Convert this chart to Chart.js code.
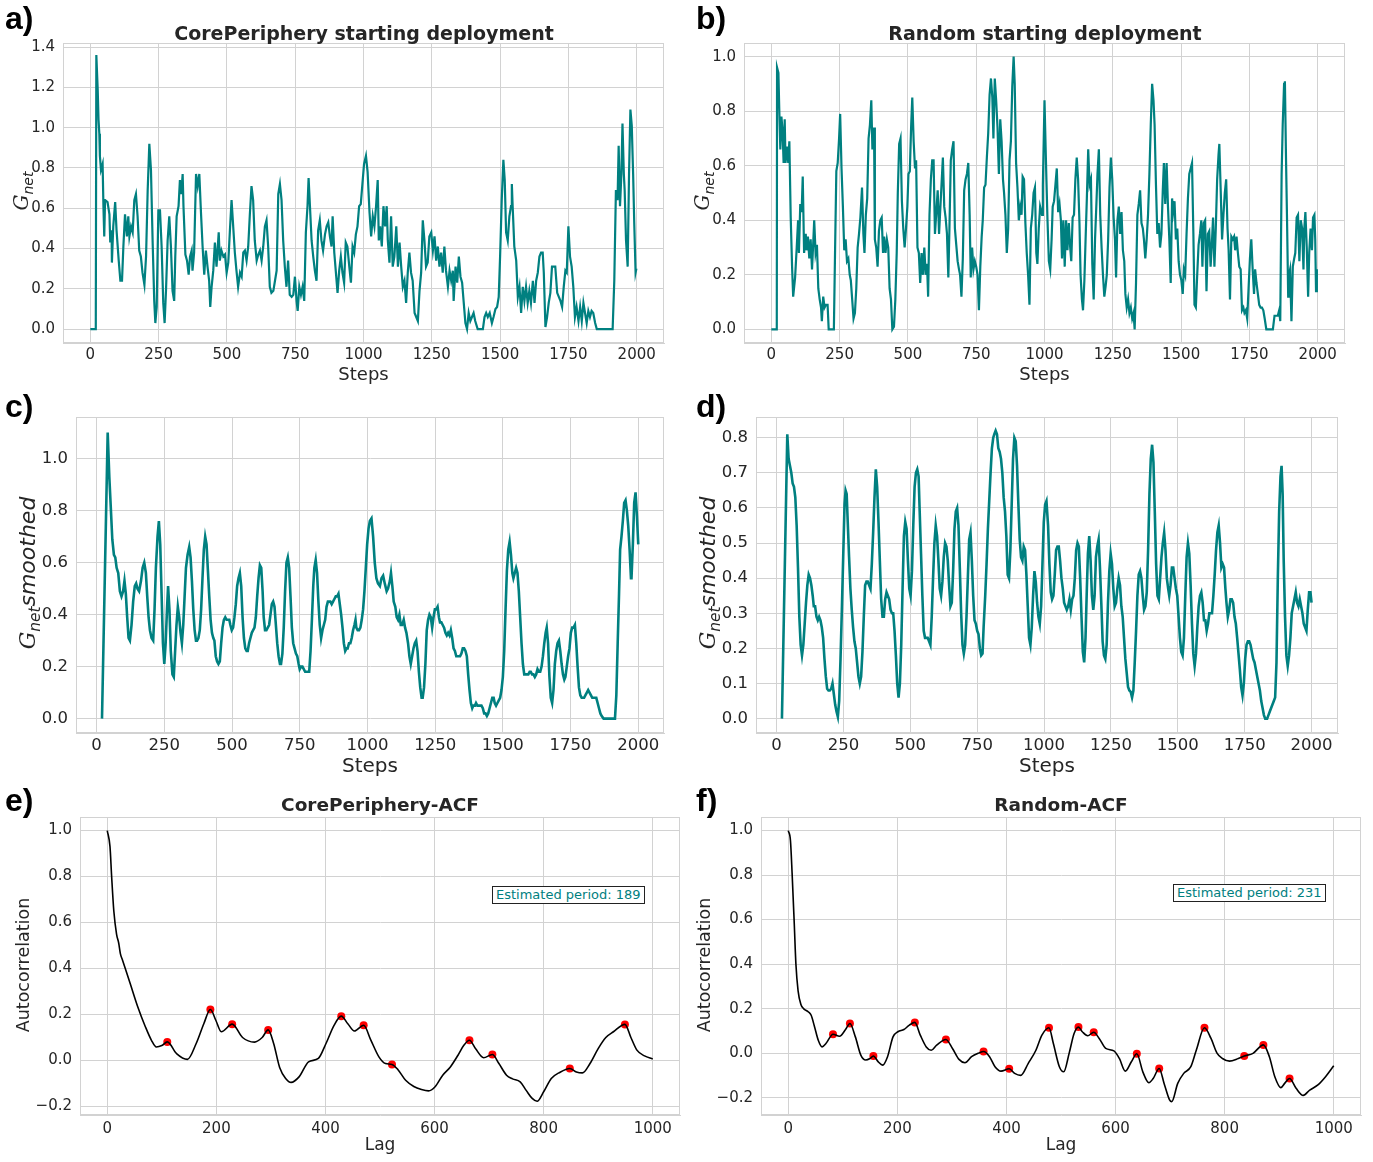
<!DOCTYPE html>
<html>
<head>
<meta charset="utf-8">
<script src="https://cdn.jsdelivr.net/npm/chart.js@4.4.0/dist/chart.umd.min.js"></script>
<style>
body{margin:0;background:#fff;width:1373px;height:1162px;position:relative;overflow:hidden;font-family:"DejaVu Sans",sans-serif;color:#262626}
.panel{position:absolute}
.lbl{position:absolute;font-family:"Liberation Sans",Arial,sans-serif;font-weight:bold;font-size:32px;line-height:1;color:#000}
.ttl{position:absolute;font-weight:bold;font-size:19px;line-height:1;transform:translateX(-50%);white-space:nowrap;color:#262626}
.ylab{position:absolute;transform:translate(-50%,-50%) rotate(-90deg);white-space:nowrap;line-height:1;color:#262626}
.cal{font-family:"DejaVu Serif",serif;font-style:italic}
.ylab sub{font-size:0.7em;font-style:italic;vertical-align:-0.35em;line-height:0}
.ylab i{font-style:italic}
.note{position:absolute;font-size:13px;line-height:16px;padding:0 3px;border:1px solid #222;background:#fff;color:#008080;white-space:nowrap}
</style>
</head>
<body>
<div id="pa" class="panel"></div>
<div id="pb" class="panel"></div>
<div id="pc" class="panel"></div>
<div id="pd" class="panel"></div>
<div id="pe" class="panel"></div>
<div id="pf" class="panel"></div>

<div class="lbl" style="left:5px;top:2px">a)</div>
<div class="lbl" style="left:696px;top:2px">b)</div>
<div class="lbl" style="left:5px;top:390px">c)</div>
<div class="lbl" style="left:696px;top:390px">d)</div>
<div class="lbl" style="left:5px;top:784px">e)</div>
<div class="lbl" style="left:696px;top:784px">f)</div>

<div class="ttl" style="left:364px;top:24px">CorePeriphery starting deployment</div>
<div class="ttl" style="left:1045px;top:24px">Random starting deployment</div>
<div class="ttl" style="left:380px;top:796px;font-size:18.5px">CorePeriphery-ACF</div>
<div class="ttl" style="left:1061px;top:796px;font-size:18.5px">Random-ACF</div>

<div class="ylab" style="left:21px;top:191px;font-size:20px"><span class="cal">G</span><sub>net</sub></div>
<div class="ylab" style="left:702px;top:191px;font-size:20px"><span class="cal">G</span><sub>net</sub></div>
<div class="ylab" style="left:28px;top:573px;font-size:22px"><span class="cal">G</span><sub>net</sub><i>smoothed</i></div>
<div class="ylab" style="left:708px;top:573px;font-size:22px"><span class="cal">G</span><sub>net</sub><i>smoothed</i></div>
<div class="ylab" style="left:24px;top:965px;font-size:17.5px">Autocorrelation</div>
<div class="ylab" style="left:705px;top:965px;font-size:17.5px">Autocorrelation</div>

<div class="note" style="left:492px;top:886px">Estimated period: 189</div>
<div class="note" style="left:1173px;top:884px">Estimated period: 231</div>

<script>
// ticks
const stepTicks = [0, 250, 500, 750, 1000, 1250, 1500, 1750, 2000];
const lagTicks = [0, 200, 400, 600, 800, 1000];
const gnetTicksCP = [0, 0.2, 0.4, 0.6, 0.8, 1.0, 1.2, 1.4];
const gnetTicksRD = [0, 0.2, 0.4, 0.6, 0.8, 1.0];
const smoothTicksCP = [0, 0.2, 0.4, 0.6, 0.8, 1.0];
const smoothTicksRD = [0, 0.1, 0.2, 0.3, 0.4, 0.5, 0.6, 0.7, 0.8];
const acfTicks = [-0.2, 0, 0.2, 0.4, 0.6, 0.8, 1.0];

// a) CorePeriphery G_net
const stepsCP = [
  0,20,22,27,30,33,35,39,45,48,51,54,63,70,73,78,79,84,91,96,
  104,110,116,121,127,134,139,143,149,155,161,167,173,179,185,191,198,204,210,216,
  222,228,234,238,243,249,255,261,267,272,277,283,289,295,301,307,311,316,323,328,
  333,338,341,348,354,360,365,371,374,380,387,393,399,405,411,417,423,429,435,439,
  444,450,456,462,470,474,480,487,493,499,505,511,517,523,529,535,541,548,554,560,
  566,572,578,584,590,596,602,609,615,621,627,633,639,645,651,657,663,670,676,682,
  688,694,700,706,712,718,724,730,737,743,749,755,759,765,771,777,783,789,795,799,
  804,810,816,822,828,834,840,846,852,859,865,871,877,883,887,893,899,905,911,917,
  923,929,935,941,948,954,960,966,972,978,984,990,996,1002,1009,1015,1022,1028,1034,1040,
  1046,1052,1056,1061,1067,1073,1079,1085,1089,1095,1101,1107,1113,1120,1126,1132,1138,1144,1150,1156,
  1162,1168,1174,1180,1187,1193,1199,1205,1211,1217,1223,1229,1235,1241,1248,1254,1260,1266,1272,1278,
  1284,1290,1296,1302,1309,1315,1321,1327,1330,1337,1343,1349,1355,1361,1367,1373,1379,1385,1391,1397,
  1403,1409,1418,1437,1443,1449,1455,1462,1470,1476,1483,1489,1495,1500,1506,1512,1517,1522,1528,1534,
  1540,1543,1546,1552,1559,1565,1571,1577,1583,1589,1595,1601,1607,1613,1620,1626,1632,1638,1644,1650,
  1656,1660,1666,1672,1678,1684,1690,1696,1702,1709,1715,1721,1727,1733,1739,1744,1750,1756,1762,1768,
  1774,1780,1787,1793,1799,1805,1811,1817,1823,1829,1835,1841,1848,1854,1912,1918,1924,1930,1934,1939,
  1944,1948,1953,1956,1961,1967,1972,1977,1982,1987,1991,1996,1999
];
const gnetCP = [
  0,0,1.36,1.19,1.04,0.97,0.86,0.79,0.82,0.61,0.46,0.64,0.63,0.57,0.43,0.49,0.33,0.51,0.63,0.49,
  0.34,0.24,0.24,0.41,0.57,0.46,0.56,0.46,0.51,0.48,0.64,0.67,0.56,0.39,0.36,0.28,0.22,0.36,0.69,0.92,
  0.79,0.44,0.14,0.03,0.11,0.59,0.59,0.41,0.13,0.03,0.19,0.44,0.56,0.41,0.19,0.14,0.36,0.56,0.61,0.74,
  0.67,0.77,0.61,0.37,0.34,0.27,0.36,0.39,0.29,0.38,0.77,0.71,0.77,0.58,0.41,0.27,0.39,0.31,0.24,0.11,
  0.21,0.29,0.43,0.31,0.48,0.34,0.39,0.36,0.37,0.28,0.33,0.49,0.64,0.51,0.38,0.29,0.21,0.28,0.26,0.38,
  0.39,0.34,0.41,0.57,0.71,0.64,0.44,0.34,0.37,0.39,0.34,0.41,0.51,0.54,0.41,0.21,0.18,0.19,0.24,0.29,
  0.67,0.72,0.64,0.44,0.31,0.21,0.34,0.17,0.16,0.17,0.26,0.14,0.09,0.21,0.17,0.21,0.14,0.48,0.61,0.75,
  0.61,0.44,0.36,0.29,0.24,0.49,0.54,0.44,0.39,0.47,0.51,0.53,0.46,0.41,0.56,0.38,0.28,0.18,0.29,0.36,
  0.28,0.23,0.43,0.41,0.31,0.23,0.41,0.38,0.47,0.51,0.61,0.62,0.72,0.82,0.86,0.78,0.58,0.46,0.56,0.51,
  0.61,0.74,0.44,0.51,0.41,0.61,0.51,0.61,0.44,0.33,0.56,0.31,0.36,0.51,0.31,0.43,0.31,0.21,0.24,0.13,
  0.28,0.38,0.28,0.24,0.08,0.06,0.04,0.19,0.28,0.54,0.44,0.31,0.33,0.46,0.48,0.39,0.46,0.34,0.41,0.31,
  0.38,0.28,0.41,0.29,0.21,0.29,0.24,0.29,0.14,0.31,0.23,0.36,0.26,0.23,0.13,0.03,0,0.08,0.04,0.06,
  0.08,0.04,0,0,0.06,0.08,0.06,0.08,0.03,0.06,0.10,0.11,0.16,0.36,0.64,0.84,0.74,0.48,0.44,0.56,
  0.61,0.72,0.61,0.41,0.34,0.16,0.21,0.08,0.21,0.14,0.21,0.13,0.19,0.13,0.24,0.13,0.24,0.28,0.36,0.38,
  0.38,0.28,0.01,0.06,0.13,0.18,0.31,0.31,0.31,0.18,0.16,0.14,0.11,0.21,0.29,0.28,0.51,0.36,0.31,0.21,
  0.06,0.11,0.04,0.11,0.04,0.13,0.08,0.03,0.09,0.06,0.09,0.08,0.03,0,0,0.24,0.69,0.64,0.91,0.61,
  0.77,1.02,0.77,0.69,0.44,0.31,0.77,1.09,1.01,0.77,0.53,0.28,0.30
];

// b) Random G_net
const stepsRD = [
  0,20,21,26,29,33,37,41,45,49,52,57,62,66,71,76,80,87,93,98,
  101,106,111,115,120,126,129,134,139,144,149,154,157,162,167,172,177,182,185,190,
  195,200,206,210,229,234,238,243,248,252,257,262,267,272,277,282,287,291,296,301,
  306,311,316,321,326,332,337,341,346,351,356,361,366,370,376,379,384,389,394,399,
  404,409,413,418,423,428,433,438,443,449,454,459,463,468,473,478,483,488,493,498,
  502,507,512,516,521,526,530,535,540,545,550,555,560,565,570,574,579,584,589,594,
  599,604,609,614,618,623,628,633,638,643,648,652,657,662,667,672,677,682,687,691,
  696,701,706,711,716,721,726,730,735,740,745,750,755,760,765,770,774,779,784,789,
  794,799,804,809,813,818,823,828,833,838,843,848,852,857,862,867,872,877,882,887,
  891,896,901,906,911,916,920,925,930,935,940,945,950,955,960,965,970,974,979,984,
  991,994,1000,1004,1007,1011,1016,1021,1026,1030,1035,1040,1045,1050,1055,1060,1064,1069,1074,1079,
  1084,1089,1094,1098,1103,1108,1113,1118,1123,1128,1132,1137,1141,1146,1151,1155,1160,1165,1170,1175,
  1180,1185,1190,1194,1199,1204,1209,1214,1219,1224,1228,1233,1238,1243,1248,1253,1258,1262,1267,1272,
  1277,1282,1287,1292,1296,1301,1306,1311,1316,1321,1326,1330,1335,1340,1345,1350,1355,1360,1364,1369,
  1374,1379,1384,1389,1394,1399,1403,1408,1413,1418,1423,1428,1433,1437,1442,1447,1452,1457,1462,1467,
  1471,1476,1481,1486,1491,1496,1501,1506,1510,1515,1520,1525,1530,1535,1540,1545,1549,1554,1559,1564,
  1569,1574,1578,1583,1588,1593,1598,1603,1608,1612,1617,1622,1627,1632,1637,1640,1645,1650,1655,1660,
  1665,1670,1674,1679,1684,1689,1694,1698,1703,1708,1713,1718,1723,1728,1732,1737,1742,1747,1752,1757,
  1762,1767,1771,1776,1781,1786,1791,1796,1801,1806,1812,1836,1842,1854,1859,1863,1868,1872,1877,1880,
  1884,1888,1892,1895,1899,1904,1909,1914,1918,1923,1928,1933,1938,1943,1948,1951,1955,1960,1965,1969,
  1974,1979,1983,1988,1991,1994,1997
];
const gnetRD = [
  0,0,0.96,0.94,0.81,0.66,0.78,0.73,0.61,0.77,0.61,0.67,0.61,0.69,0.41,0.23,0.12,0.19,0.30,0.40,
  0.28,0.46,0.43,0.56,0.28,0.35,0.29,0.34,0.26,0.33,0.22,0.33,0.40,0.28,0.31,0.15,0.11,0.08,0.03,0.12,
  0.08,0.09,0.09,0,0,0.33,0.58,0.61,0.70,0.79,0.59,0.45,0.29,0.33,0.25,0.26,0.20,0.18,0.11,0.04,
  0.06,0.15,0.30,0.35,0.41,0.52,0.35,0.28,0.42,0.48,0.70,0.75,0.84,0.66,0.74,0.33,0.30,0.23,0.36,0.40,
  0.41,0.28,0.34,0.28,0.33,0.30,0.15,0.11,0,0.01,0.11,0.28,0.50,0.68,0.70,0.47,0.37,0.30,0.37,0.45,
  0.57,0.58,0.75,0.85,0.69,0.59,0.62,0.30,0.28,0.17,0.28,0.20,0.30,0.20,0.24,0.12,0.42,0.55,0.62,0.62,
  0.35,0.43,0.51,0.35,0.43,0.53,0.63,0.45,0.41,0.35,0.19,0.37,0.62,0.66,0.69,0.37,0.31,0.25,0.22,0.20,
  0.12,0.26,0.51,0.55,0.57,0.61,0.42,0.19,0.30,0.22,0.25,0.23,0.20,0.07,0.23,0.34,0.40,0.52,0.53,0.63,
  0.72,0.86,0.92,0.85,0.70,0.92,0.84,0.74,0.57,0.77,0.69,0.55,0.50,0.42,0.28,0.37,0.62,0.69,0.89,1.0,
  0.90,0.61,0.52,0.40,0.45,0.42,0.56,0.55,0.39,0.28,0.20,0.09,0.37,0.42,0.50,0.52,0.28,0.24,0.37,0.45,
  0.42,0.53,0.84,0.67,0.55,0.40,0.25,0.22,0.33,0.45,0.47,0.53,0.59,0.43,0.46,0.40,0.26,0.40,0.23,0.40,
  0.29,0.39,0.30,0.25,0.41,0.42,0.55,0.63,0.55,0.39,0.20,0.11,0.07,0.18,0.35,0.48,0.66,0.53,0.55,0.24,
  0.11,0.33,0.46,0.57,0.66,0.42,0.30,0.20,0.12,0.16,0.20,0.33,0.52,0.63,0.55,0.41,0.33,0.19,0.40,0.45,
  0.35,0.43,0.29,0.25,0.13,0.08,0.11,0.06,0.08,0.04,0.06,0,0.17,0.42,0.46,0.51,0.39,0.37,0.33,0.26,
  0.33,0.42,0.57,0.75,0.90,0.84,0.75,0.53,0.35,0.39,0.30,0.35,0.51,0.61,0.46,0.61,0.45,0.33,0.17,0.48,
  0.43,0.47,0.33,0.37,0.25,0.20,0.18,0.13,0.22,0.20,0.35,0.48,0.57,0.59,0.61,0.35,0.09,0.08,0.20,0.31,
  0.35,0.40,0.23,0.39,0.40,0.14,0.35,0.36,0.23,0.30,0.41,0.23,0.37,0.55,0.64,0.68,0.51,0.33,0.42,0.50,
  0.55,0.37,0.29,0.11,0.34,0.33,0.34,0.29,0.34,0.28,0.23,0.22,0.07,0.08,0.06,0.07,0.04,0.15,0.26,0.33,
  0.22,0.13,0.22,0.17,0.13,0.09,0.08,0.08,0.07,0.04,0,0,0.05,0.05,0.07,0.03,0.57,0.75,0.90,0.91,
  0.63,0.39,0.12,0.20,0.22,0.03,0.23,0.26,0.28,0.41,0.42,0.25,0.40,0.37,0.22,0.37,0.43,0.30,0.12,0.28,
  0.37,0.29,0.41,0.42,0.33,0.14,0.22
];

// c) CorePeriphery smoothed
const stepsSmCP = [
  20,41,47,53,58,64,69,74,80,86,92,98,103,108,113,118,123,129,135,141,
  146,151,157,164,170,176,182,187,192,197,203,209,214,219,225,230,235,240,245,250,
  255,260,264,269,274,280,285,290,295,300,305,310,315,320,325,330,336,342,347,352,
  357,362,367,371,376,381,386,391,396,401,406,411,416,421,426,431,435,440,445,450,
  455,460,465,470,475,480,485,490,494,499,504,509,514,519,524,529,534,539,544,549,
  554,558,563,568,573,578,583,588,593,598,603,608,613,617,622,627,632,637,642,647,
  652,657,662,667,672,677,681,686,691,696,701,706,711,716,721,726,731,736,741,746,
  750,755,760,765,770,775,780,785,790,795,800,804,809,814,819,824,829,834,839,844,
  849,854,858,863,868,873,878,883,888,893,898,903,908,913,918,923,927,932,937,942,
  947,952,956,959,964,969,974,979,984,989,994,999,1004,1009,1015,1021,1027,1033,1039,1046,
  1052,1058,1064,1071,1076,1083,1087,1092,1097,1103,1108,1113,1118,1123,1128,1134,1139,1144,1150,1155,
  1160,1165,1170,1175,1180,1185,1190,1195,1200,1204,1209,1214,1219,1224,1229,1234,1239,1244,1249,1254,
  1259,1264,1268,1273,1278,1283,1288,1293,1298,1303,1308,1313,1318,1323,1328,1333,1337,1342,1347,1352,
  1357,1362,1367,1372,1377,1382,1387,1391,1397,1401,1406,1411,1416,1421,1426,1431,1436,1441,1446,1451,
  1456,1461,1466,1470,1475,1480,1485,1490,1495,1500,1505,1510,1515,1520,1525,1530,1535,1539,1544,1549,
  1554,1559,1564,1569,1574,1579,1584,1589,1594,1599,1603,1608,1613,1618,1623,1628,1633,1638,1643,1648,
  1653,1658,1662,1667,1672,1677,1682,1687,1692,1697,1702,1707,1712,1717,1722,1727,1731,1736,1741,1746,
  1751,1756,1761,1766,1771,1776,1781,1786,1791,1796,1800,1805,1810,1815,1820,1825,1830,1835,1840,1845,
  1850,1855,1860,1865,1872,1914,1919,1924,1929,1933,1938,1943,1948,1953,1958,1963,1968,1973,1975,1980,
  1985,1990,1995,2000
];
const smoothCP = [
  0,1.10,0.93,0.80,0.69,0.63,0.62,0.58,0.56,0.49,0.47,0.49,0.53,0.48,0.39,0.31,0.30,0.36,0.45,0.51,
  0.52,0.50,0.49,0.53,0.58,0.60,0.56,0.47,0.39,0.34,0.31,0.30,0.42,0.58,0.70,0.76,0.67,0.48,0.29,0.21,
  0.29,0.42,0.51,0.42,0.26,0.17,0.16,0.26,0.36,0.43,0.39,0.33,0.29,0.36,0.47,0.58,0.63,0.66,0.62,0.53,
  0.42,0.34,0.30,0.30,0.31,0.34,0.42,0.54,0.65,0.70,0.67,0.57,0.47,0.38,0.33,0.31,0.30,0.24,0.22,0.21,
  0.22,0.29,0.35,0.38,0.39,0.38,0.38,0.38,0.36,0.34,0.35,0.39,0.44,0.51,0.54,0.56,0.51,0.39,0.31,0.27,
  0.26,0.26,0.29,0.31,0.33,0.34,0.35,0.39,0.47,0.54,0.59,0.58,0.49,0.39,0.34,0.34,0.35,0.36,0.40,0.44,
  0.45,0.43,0.36,0.29,0.24,0.21,0.21,0.25,0.35,0.49,0.60,0.62,0.58,0.47,0.35,0.29,0.27,0.25,0.24,0.21,
  0.19,0.20,0.20,0.19,0.18,0.18,0.18,0.18,0.26,0.38,0.51,0.58,0.61,0.56,0.45,0.36,0.31,0.34,0.36,0.38,
  0.43,0.45,0.45,0.45,0.44,0.45,0.46,0.47,0.47,0.48,0.44,0.40,0.35,0.29,0.26,0.27,0.27,0.29,0.29,0.31,
  0.34,0.36,0.38,0.35,0.34,0.34,0.35,0.38,0.42,0.49,0.58,0.67,0.73,0.76,0.77,0.70,0.60,0.54,0.52,0.51,
  0.54,0.55,0.52,0.49,0.50,0.53,0.56,0.51,0.45,0.43,0.39,0.38,0.40,0.36,0.36,0.38,0.35,0.33,0.29,0.24,
  0.21,0.24,0.27,0.29,0.30,0.26,0.18,0.12,0.08,0.08,0.12,0.21,0.34,0.38,0.40,0.39,0.35,0.39,0.42,0.42,
  0.43,0.39,0.37,0.37,0.36,0.35,0.33,0.32,0.33,0.32,0.34,0.31,0.27,0.26,0.24,0.24,0.24,0.24,0.25,0.27,
  0.27,0.26,0.24,0.17,0.11,0.06,0.04,0.05,0.05,0.06,0.05,0.05,0.05,0.05,0.04,0.02,0.02,0.01,0.02,0.04,
  0.06,0.08,0.08,0.06,0.05,0.06,0.07,0.08,0.11,0.16,0.26,0.42,0.57,0.65,0.68,0.63,0.56,0.54,0.56,0.58,
  0.56,0.49,0.39,0.29,0.21,0.17,0.17,0.17,0.17,0.18,0.18,0.17,0.17,0.16,0.17,0.19,0.18,0.18,0.20,0.24,
  0.29,0.33,0.35,0.29,0.16,0.08,0.06,0.11,0.21,0.26,0.29,0.30,0.26,0.21,0.17,0.15,0.16,0.20,0.24,0.27,
  0.33,0.35,0.35,0.36,0.29,0.20,0.12,0.09,0.08,0.08,0.08,0.09,0.10,0.11,0.10,0.09,0.08,0.08,0.08,0.08,
  0.06,0.04,0.02,0.01,0,0,0.09,0.29,0.48,0.65,0.70,0.76,0.83,0.84,0.80,0.74,0.65,0.54,0.54,0.67,
  0.83,0.87,0.78,0.67
];

// d) Random smoothed
const stepsSmRD = [
  20,40,45,50,55,60,65,70,75,80,85,90,95,100,105,110,115,120,125,130,
  135,139,144,149,154,159,164,169,174,179,184,189,194,199,204,209,214,219,224,229,
  234,239,244,249,254,258,262,266,271,276,281,286,291,296,301,306,311,316,321,326,
  331,336,341,346,351,356,361,366,371,376,381,386,391,396,401,406,411,416,421,426,
  431,436,441,446,451,456,461,466,471,476,481,486,491,496,501,506,511,516,521,526,
  531,535,540,545,550,555,560,565,570,575,580,585,590,595,600,605,610,615,620,625,
  630,635,640,645,650,655,660,665,670,675,680,685,690,695,700,705,710,715,720,725,
  730,735,740,745,750,755,760,765,770,774,780,785,790,795,800,805,810,814,819,824,
  829,834,839,844,849,854,859,864,869,874,879,884,889,894,899,904,909,914,919,924,
  929,934,939,944,949,954,959,964,969,974,979,984,989,994,999,1004,1009,1015,1020,1025,
  1030,1035,1040,1045,1050,1055,1060,1065,1070,1075,1080,1085,1090,1095,1100,1105,1110,1115,1120,1125,
  1130,1135,1140,1145,1150,1155,1160,1164,1169,1174,1179,1184,1189,1194,1199,1204,1209,1214,1219,1224,
  1229,1234,1239,1244,1249,1254,1259,1264,1269,1274,1279,1284,1289,1294,1299,1304,1309,1314,1319,1324,
  1329,1334,1339,1344,1349,1354,1359,1364,1369,1374,1379,1384,1389,1394,1399,1404,1409,1414,1419,1424,
  1429,1434,1439,1444,1449,1454,1459,1464,1468,1473,1478,1483,1488,1493,1498,1503,1508,1513,1518,1523,
  1528,1533,1538,1543,1548,1553,1558,1563,1568,1573,1578,1583,1588,1593,1598,1603,1608,1613,1618,1623,
  1628,1633,1638,1643,1648,1653,1658,1663,1668,1673,1678,1682,1687,1692,1697,1702,1707,1712,1717,1722,
  1727,1732,1737,1742,1747,1752,1757,1762,1767,1772,1777,1782,1787,1792,1797,1802,1807,1812,1817,1822,
  1827,1834,1839,1844,1849,1854,1859,1864,1869,1874,1879,1884,1888,1892,1896,1901,1906,1911,1916,1921,
  1926,1931,1936,1941,1946,1951,1956,1961,1966,1971,1976,1981,1986,1991,1996,2000
];
const smoothRD = [
  0,0.81,0.74,0.72,0.70,0.67,0.66,0.63,0.55,0.43,0.29,0.21,0.18,0.21,0.27,0.33,0.38,0.41,0.40,0.38,
  0.35,0.32,0.32,0.29,0.28,0.29,0.28,0.26,0.23,0.17,0.12,0.085,0.08,0.08,0.085,0.10,0.07,0.04,0.02,0.005,
  0.05,0.17,0.31,0.46,0.61,0.65,0.64,0.56,0.46,0.37,0.31,0.26,0.22,0.20,0.16,0.12,0.10,0.12,0.19,0.29,
  0.38,0.39,0.39,0.38,0.37,0.44,0.53,0.63,0.71,0.66,0.56,0.45,0.34,0.29,0.29,0.34,0.36,0.35,0.34,0.31,
  0.30,0.30,0.25,0.18,0.10,0.06,0.10,0.21,0.37,0.52,0.56,0.54,0.45,0.37,0.35,0.42,0.55,0.66,0.70,0.71,
  0.69,0.59,0.47,0.35,0.25,0.23,0.23,0.23,0.22,0.21,0.29,0.40,0.50,0.55,0.52,0.45,0.37,0.35,0.39,0.46,
  0.50,0.49,0.45,0.38,0.32,0.33,0.42,0.54,0.59,0.60,0.55,0.43,0.30,0.21,0.185,0.21,0.29,0.40,0.51,0.53,
  0.45,0.35,0.28,0.27,0.25,0.24,0.20,0.18,0.185,0.26,0.35,0.44,0.54,0.62,0.70,0.77,0.80,0.81,0.82,0.81,
  0.77,0.76,0.74,0.70,0.63,0.59,0.52,0.41,0.40,0.48,0.61,0.74,0.80,0.79,0.72,0.61,0.51,0.46,0.45,0.49,
  0.48,0.41,0.32,0.23,0.21,0.26,0.35,0.42,0.39,0.33,0.29,0.27,0.32,0.44,0.56,0.61,0.62,0.55,0.44,0.36,
  0.34,0.35,0.41,0.48,0.49,0.49,0.45,0.40,0.37,0.33,0.32,0.31,0.32,0.34,0.31,0.34,0.35,0.40,0.48,0.50,
  0.49,0.40,0.29,0.19,0.16,0.23,0.37,0.47,0.52,0.45,0.35,0.31,0.35,0.46,0.49,0.51,0.43,0.33,0.22,0.18,
  0.17,0.21,0.33,0.42,0.47,0.44,0.37,0.32,0.33,0.37,0.40,0.38,0.32,0.29,0.23,0.17,0.13,0.09,0.08,0.076,
  0.06,0.08,0.16,0.25,0.35,0.41,0.42,0.40,0.35,0.31,0.32,0.36,0.48,0.64,0.74,0.78,0.73,0.59,0.44,0.35,
  0.34,0.40,0.46,0.50,0.53,0.48,0.40,0.37,0.35,0.38,0.43,0.43,0.40,0.37,0.35,0.29,0.23,0.19,0.18,0.23,
  0.35,0.46,0.50,0.47,0.38,0.27,0.185,0.15,0.185,0.26,0.32,0.35,0.36,0.33,0.28,0.28,0.25,0.27,0.30,0.30,
  0.30,0.35,0.41,0.48,0.53,0.55,0.50,0.43,0.44,0.43,0.37,0.33,0.29,0.31,0.34,0.34,0.33,0.29,0.27,0.23,
  0.185,0.14,0.09,0.066,0.10,0.17,0.21,0.22,0.22,0.21,0.19,0.17,0.16,0.14,0.12,0.10,0.08,0.05,0.03,0.01,
  0,0,0.01,0.02,0.03,0.04,0.05,0.06,0.16,0.40,0.59,0.69,0.72,0.64,0.45,0.29,0.18,0.15,0.18,0.23,
  0.30,0.32,0.34,0.36,0.33,0.32,0.34,0.32,0.30,0.27,0.26,0.25,0.31,0.36,0.36,0.33
];

// e) CorePeriphery ACF
const lagCP = [
  0,5,8,12,17,21,24,28,42,56,70,81,90,100,110,127,147,163,177,189,
  199,209,229,248,270,284,295,305,316,327,337,352,369,387,401,416,429,441,453,470,
  483,498,510,522,533,547,562,576,589,601,615,629,643,654,664,675,690,706,718,732,
  743,757,768,779,788,800,814,828,848,860,871,885,900,914,928,949,960,971,985,1000
];
const acfCP = [
  1.0,0.93,0.80,0.65,0.55,0.51,0.465,0.436,0.335,0.233,0.146,0.088,0.059,0.065,0.081,0.03,0.005,0.074,0.16,0.222,
  0.175,0.125,0.158,0.10,0.08,0.10,0.133,0.074,-0.03,-0.078,-0.095,-0.07,-0.006,0.009,0.074,0.154,0.193,0.16,0.128,0.153,
  0.09,0.016,-0.013,-0.017,-0.04,-0.086,-0.113,-0.126,-0.132,-0.114,-0.064,-0.028,0.023,0.067,0.088,0.052,0.012,0.026,-0.013,-0.064,
  -0.08,-0.093,-0.13,-0.165,-0.177,-0.136,-0.078,-0.054,-0.035,-0.05,-0.054,-0.013,0.052,0.10,0.125,0.157,0.10,0.045,0.02,0.007
];
const peakLagCP = [110, 189, 229, 295, 429, 470, 522, 664, 706, 848, 949];
const peakAcfCP = [0.081, 0.222, 0.158, 0.133, 0.193, 0.153, -0.017, 0.088, 0.026, -0.035, 0.157];

// f) Random ACF
const lagRD = [
  0,4,7,11,14,18,23,28,37,42,48,55,62,69,82,94,105,113,123,133,
  142,150,156,165,173,182,192,201,212,222,232,242,253,262,272,289,301,313,324,336,
  349,358,369,379,390,405,415,426,440,454,465,478,486,497,505,515,524,532,539,549,
  560,570,582,597,607,618,629,639,650,661,669,680,689,699,703,714,725,738,748,763,
  775,786,796,809,825,836,852,871,882,892,903,910,919,931,944,956,971,985,1000
];
const acfRD = [
  1.0,0.955,0.81,0.58,0.40,0.28,0.22,0.20,0.185,0.17,0.12,0.058,0.028,0.043,0.085,0.076,0.106,0.133,0.073,-0.009,
  -0.031,-0.024,-0.013,-0.039,-0.054,-0.016,0.073,0.096,0.106,0.126,0.138,0.081,0.028,0.013,0.036,0.061,0.021,-0.028,-0.043,-0.016,
  0.0,0.007,-0.016,-0.061,-0.081,-0.07,-0.091,-0.10,-0.046,0.013,0.081,0.114,0.043,-0.061,-0.084,0.0,0.088,0.117,0.096,0.078,
  0.094,0.066,0.021,0.010,-0.024,-0.081,-0.039,-0.003,-0.084,-0.133,-0.114,-0.069,-0.136,-0.21,-0.218,-0.136,-0.091,-0.061,0.013,0.114,
  0.066,0.0,-0.024,-0.036,-0.024,-0.013,-0.001,0.037,-0.016,-0.106,-0.155,-0.136,-0.114,-0.158,-0.19,-0.166,-0.143,-0.106,-0.057
];
const peakLagRD = [82, 113, 156, 232, 289, 358, 405, 478, 532, 560, 639, 680, 763, 836, 871, 919];
const peakAcfRD = [0.085, 0.133, -0.013, 0.138, 0.061, 0.007, -0.07, 0.114, 0.117, 0.094, -0.003, -0.069, 0.114, -0.013, 0.037, -0.114];

const teal = '#008080';
const ink = '#262626';
const gridCol = '#d2d2d2';
const PAD_TOP = 22;   // room above the plot so the top tick label never pushes the area down

Chart.defaults.font.family = '"DejaVu Sans", sans-serif';

function fmt1(v) {
    var s = Math.abs(v).toFixed(1);
    return v < -1e-9 ? '\u2212' + s : s;
}

function pts(xs, ys) {
    return xs.map((x, i) => ({x: x, y: ys[i]}));
}

// box round the plot area, like the seaborn whitegrid spines
const frame = {
    id: 'frame',
    beforeDatasetsDraw(chart) {
        var a = chart.chartArea;
        var ctx = chart.ctx;
        ctx.save();
        ctx.strokeStyle = gridCol;
        ctx.lineWidth = 1;
        ctx.strokeRect(a.left + 0.5, a.top + 0.5, a.right - a.left - 1, a.bottom - a.top - 1);
        ctx.restore();
    }
};

function makePanel(id, box, xr, yr, xTicks, yTicks, xTitle, sz, datasets) {
    var holder = document.getElementById(id);
    var w = 60 + (box.r - box.l) + 20;
    var h = PAD_TOP + (box.b - box.t) + sz.xH;
    holder.style.left = (box.l - 60) + 'px';
    holder.style.top = (box.t - PAD_TOP) + 'px';
    var canvas = document.createElement('canvas');
    canvas.width = w;
    canvas.height = h;
    canvas.style.width = w + 'px';
    canvas.style.height = h + 'px';
    holder.appendChild(canvas);

    return new Chart(canvas.getContext('2d'), {
        type: 'line',
        data: { datasets: datasets },
        options: {
            responsive: false,
            animation: false,
            devicePixelRatio: 1,
            events: [],
            layout: { padding: { top: PAD_TOP, right: 20, bottom: 0, left: 0 } },
            plugins: { legend: { display: false }, tooltip: { enabled: false } },
            scales: {
                x: {
                    type: 'linear', min: xr[0], max: xr[1],
                    afterBuildTicks: s => { s.ticks = xTicks.map(v => ({value: v})); },
                    afterFit: s => { s.height = sz.xH; },
                    ticks: { autoSkip: false, maxRotation: 0, padding: sz.padX, color: ink,
                             font: { size: sz.tick }, callback: v => String(v) },
                    grid: { color: gridCol, lineWidth: 1, drawTicks: false },
                    border: { color: gridCol, width: 1 },
                    title: { display: true, text: xTitle, color: ink, padding: 0, font: { size: sz.title } }
                },
                y: {
                    type: 'linear', min: yr[0], max: yr[1],
                    afterBuildTicks: s => { s.ticks = yTicks.map(v => ({value: v})); },
                    afterFit: s => { s.width = 60; },
                    ticks: { padding: 8, color: ink, font: { size: sz.tick }, callback: v => fmt1(v) },
                    grid: { color: gridCol, lineWidth: 1, drawTicks: false },
                    border: { color: gridCol, width: 1 }
                }
            }
        },
        plugins: [frame]
    });
}

function tealLine(xs, ys, w) {
    return { data: pts(xs, ys), borderColor: teal, borderWidth: w, pointRadius: 0, fill: false, tension: 0 };
}

function acfSets(lags, vals, pLags, pVals) {
    return [
        { data: pts(lags, vals), borderColor: '#000', borderWidth: 1.6, pointRadius: 0, fill: false,
          cubicInterpolationMode: 'monotone', order: 0 },
        { data: pts(pLags, pVals), showLine: false, pointRadius: 4, pointBorderWidth: 0,
          pointBackgroundColor: '#ff0000', order: 1 }
    ];
}

var szTop = { tick: 15, title: 18, xH: 43, padX: 3 };
var szMid = { tick: 16.5, title: 20, xH: 46, padX: 3 };
var szBot = { tick: 15, title: 17, xH: 41, padX: 5 };

makePanel('pa', {l: 63, t: 43, r: 664, b: 343}, [-100, 2100], [-0.069, 1.42], stepTicks, gnetTicksCP, 'Steps', szTop,
          [tealLine(stepsCP, gnetCP, 2.2)]);
makePanel('pb', {l: 744, t: 43, r: 1345, b: 343}, [-100, 2100], [-0.05, 1.05], stepTicks, gnetTicksRD, 'Steps', szTop,
          [tealLine(stepsRD, gnetRD, 2.2)]);
makePanel('pc', {l: 76, t: 417, r: 664, b: 733}, [-76, 2095], [-0.0553, 1.16], stepTicks, smoothTicksCP, 'Steps', szMid,
          [tealLine(stepsSmCP, smoothCP, 2.6)]);
makePanel('pd', {l: 756, t: 417, r: 1338, b: 733}, [-77, 2099], [-0.041, 0.859], stepTicks, smoothTicksRD, 'Steps', szMid,
          [tealLine(stepsSmRD, smoothRD, 2.6)]);
makePanel('pe', {l: 80, t: 817, r: 680, b: 1115}, [-50, 1050], [-0.237, 1.059], lagTicks, acfTicks, 'Lag', szBot,
          acfSets(lagCP, acfCP, peakLagCP, peakAcfCP));
makePanel('pf', {l: 761, t: 817, r: 1361, b: 1115}, [-50, 1050], [-0.278, 1.061], lagTicks, acfTicks, 'Lag', szBot,
          acfSets(lagRD, acfRD, peakLagRD, peakAcfRD));
</script>
</body>
</html>
